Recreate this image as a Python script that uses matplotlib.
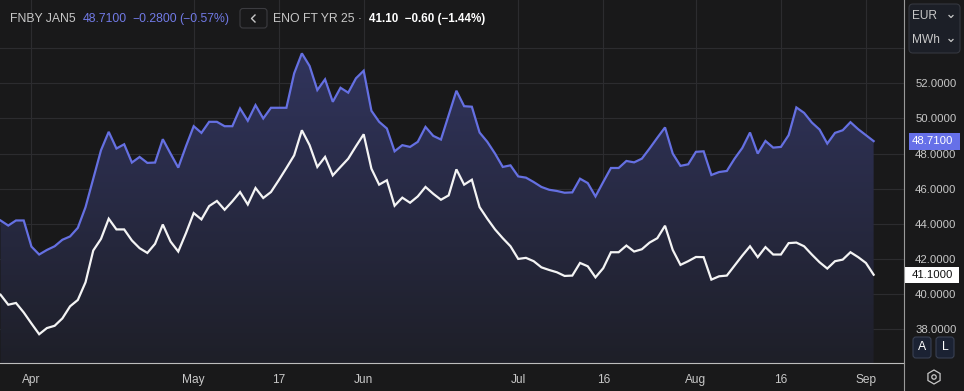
import numpy as np
import matplotlib
matplotlib.use("Agg")
import matplotlib.pyplot as plt
from matplotlib.colors import LinearSegmentedColormap
from matplotlib.patches import FancyBboxPatch, PathPatch, RegularPolygon, Circle, Rectangle

# ── data (daily settlements, EUR/MWh) ──
fnby = [44.19, 43.90, 44.19, 44.19, 42.70, 42.25, 42.51, 42.72, 43.09, 43.28,
        43.77, 44.95, 46.57, 48.19, 49.24, 48.29, 48.53, 47.49, 47.81, 47.47,
        47.49, 48.82, 48.00, 47.20, 48.42, 49.56, 49.18, 49.81, 49.81, 49.56,
        49.56, 50.57, 49.87, 50.76, 50.00, 50.61, 50.61, 50.61, 52.57, 53.71,
        52.99, 51.62, 52.23, 50.95, 51.75, 51.47, 52.29, 52.72, 50.44, 49.81,
        49.43, 48.13, 48.48, 48.38, 48.67, 49.52, 49.01, 48.80, 50.19, 51.58,
        50.70, 50.67, 49.20, 48.67, 48.00, 47.24, 47.33, 46.70, 46.63, 46.38,
        46.10, 45.94, 45.87, 45.77, 45.79, 46.57, 46.32, 45.56, 46.38, 47.18,
        47.18, 47.58, 47.50, 47.71, 48.29, 48.90, 49.49, 48.00, 47.30, 47.39,
        48.10, 48.13, 46.78, 46.95, 47.01, 47.71, 48.32, 49.20, 48.00, 48.72,
        48.34, 48.38, 49.05, 50.63, 50.32, 49.77, 49.37, 48.57, 49.18, 49.33,
        49.79, 49.39, 49.05, 48.71]

eno = [39.96, 39.39, 39.49, 38.95, 38.32, 37.71, 38.06, 38.19, 38.61, 39.30,
       39.66, 40.67, 42.48, 43.14, 44.29, 43.68, 43.68, 43.05, 42.61, 42.34,
       42.86, 43.96, 42.99, 42.42, 43.47, 44.61, 44.25, 45.01, 45.30, 44.80,
       45.28, 45.81, 45.10, 46.04, 45.47, 45.81, 46.48, 47.18, 47.90, 49.33,
       48.48, 47.24, 47.81, 46.76, 47.24, 47.71, 48.42, 49.10, 47.14, 46.23,
       46.48, 45.03, 45.49, 45.20, 45.56, 46.10, 45.71, 45.37, 45.62, 47.10,
       46.23, 46.51, 44.95, 44.29, 43.68, 43.18, 42.72, 42.00, 42.06, 41.87,
       41.52, 41.37, 41.24, 41.03, 41.05, 41.77, 41.58, 40.95, 41.47, 42.38,
       42.38, 42.76, 42.42, 42.55, 42.93, 43.18, 43.89, 42.51, 41.66, 41.87,
       42.11, 42.10, 40.82, 41.01, 41.05, 41.62, 42.19, 42.72, 42.10, 42.67,
       42.25, 42.25, 42.90, 42.93, 42.72, 42.25, 41.81, 41.45, 41.87, 41.96,
       42.38, 42.10, 41.77, 41.10]

tick_idx = [4, 25, 36, 47, 67, 78, 90, 101, 112]
tick_lbl = ["Apr", "May", "17", "Jun", "Jul", "16", "Aug", "16", "Sep"]
y_ticks = [38, 40, 42, 44, 46, 48, 50, 52, 54]

# ── style ──
BG = "#19191a"
GRID = "#2c2c2f"
BLUE = "#6570e2"
TXT = "#c8c8c8"
FONT = ["Liberation Sans", "DejaVu Sans"]
plt.rcParams["font.family"] = FONT

W, H = 964, 391
fig = plt.figure(figsize=(W / 100, H / 100), dpi=100, facecolor=BG)
ax = fig.add_axes([0, 28 / H, 904 / W, 1 - 28 / H], facecolor=BG)

x = np.arange(len(fnby))
ymin, ymax = 36.07, 56.75
xmin, xmax = -0.07, 116.93

# gradient fill under the blue series
cmap = LinearSegmentedColormap.from_list("fill", ["#1e1f28", "#343866"])
grad = np.linspace(0, 1, 256).reshape(-1, 1)
im = ax.imshow(grad, aspect="auto", cmap=cmap, origin="lower",
               extent=[xmin, xmax, ymin, ymax], zorder=1)
poly = ax.fill_between(x, fnby, ymin, color="none", lw=0)
clip = PathPatch(poly.get_paths()[0], transform=ax.transData,
                 facecolor="none", edgecolor="none")
ax.add_patch(clip)
im.set_clip_path(clip)

ax.plot(x, fnby, color=BLUE, lw=1.6, zorder=3, solid_joinstyle="miter")
ax.plot(x, eno, color="#f4f4f4", lw=1.6, zorder=3, solid_joinstyle="miter")

ax.set_xlim(xmin, xmax)
ax.set_ylim(ymin, ymax)
ax.set_xticks(tick_idx)
ax.set_xticklabels(tick_lbl)
ax.set_yticks(y_ticks)
ax.set_yticklabels([f"{v:.4f}" if v < 54 else "" for v in y_ticks])
ax.yaxis.tick_right()
ax.tick_params(axis="x", length=0, pad=8, labelsize=8.6, colors=TXT)
ax.tick_params(axis="y", length=0, pad=8, labelsize=8.2, colors=TXT)
ax.grid(True, color=GRID, lw=0.8, zorder=0)
ax.set_axisbelow(True)
for s in ["top", "left", "right"]:
    ax.spines[s].set_visible(False)
ax.spines["bottom"].set_color("#bdbdbd")
ax.spines["bottom"].set_linewidth(0.8)

# ── overlay in pixel coordinates for header, tags and buttons ──
ov = fig.add_axes([0, 0, 1, 1], facecolor="none")
ov.set_xlim(0, W)
ov.set_ylim(H, 0)
ov.axis("off")

ov.plot([904, 904], [0, H], color="#9a9a9a", lw=0.8)

hdr = dict(fontsize=8.8, va="center", ha="left")
ov.text(10, 19, "FNBY JAN5", color=TXT, **hdr)
ov.text(83, 19, "48.7100", color="#717ae6", **hdr)
ov.text(132, 19, "\u22120.2800", color="#717ae6", **hdr)
ov.text(179, 19, "(\u22120.57%)", color="#717ae6", **hdr)
ov.add_patch(FancyBboxPatch((240, 8.5), 27, 19.5, boxstyle="round,pad=0,rounding_size=3",
                            fc=BG, ec="#3c3c40", lw=0.8))
ov.plot([255, 251.5, 255], [15, 18.5, 22], color=TXT, lw=1.0)
ov.text(273, 19, "ENO FT YR 25 \u00b7", color=TXT, **hdr)
ov.text(369, 19, "41.10  \u22120.60 (\u22121.44%)", color="white", fontweight="bold",
        fontsize=8.4, va="center", ha="left")

# currency / unit selector
ov.add_patch(FancyBboxPatch((909, 4), 51, 49, boxstyle="round,pad=0,rounding_size=4",
                            fc="#1c1f27", ec="#34373f", lw=0.8))
ov.text(912, 16, "EUR", color=TXT, fontsize=8.6, va="center")
ov.text(912, 40, "MWh", color=TXT, fontsize=8.6, va="center")
for cy in (16, 40):
    ov.plot([949, 951, 953], [15.5 + cy - 16, 17.5 + cy - 16, 15.5 + cy - 16],
            color=TXT, lw=0.9)

# last-price tags
ov.add_patch(Rectangle((909, 133), 51, 16.5, fc="#6670e8", ec="none"))
ov.text(912, 141.5, "48.7100", color="white", fontsize=8.2, va="center")
ov.add_patch(Rectangle((904, 266.5), 55, 16.5, fc="white", ec="none"))
ov.text(912, 275, "41.1000", color="#111111", fontsize=8.2, va="center")

# A / L buttons
for bx, lab in [(913, "A"), (936, "L")]:
    ov.add_patch(FancyBboxPatch((bx, 337), 18, 21, boxstyle="round,pad=0,rounding_size=3",
                                fc="#1b2233", ec="#394052", lw=0.8))
    ov.text(bx + 9, 347.5, lab, color="white", fontsize=8.8, ha="center", va="center")

# settings icon
ov.add_patch(RegularPolygon((934, 377), 6, radius=7, fc="none", ec=TXT, lw=0.9))
ov.add_patch(Circle((934, 377), 2.2, fc="none", ec=TXT, lw=0.9))

fig.savefig("out.png", dpi=100, facecolor=BG)
